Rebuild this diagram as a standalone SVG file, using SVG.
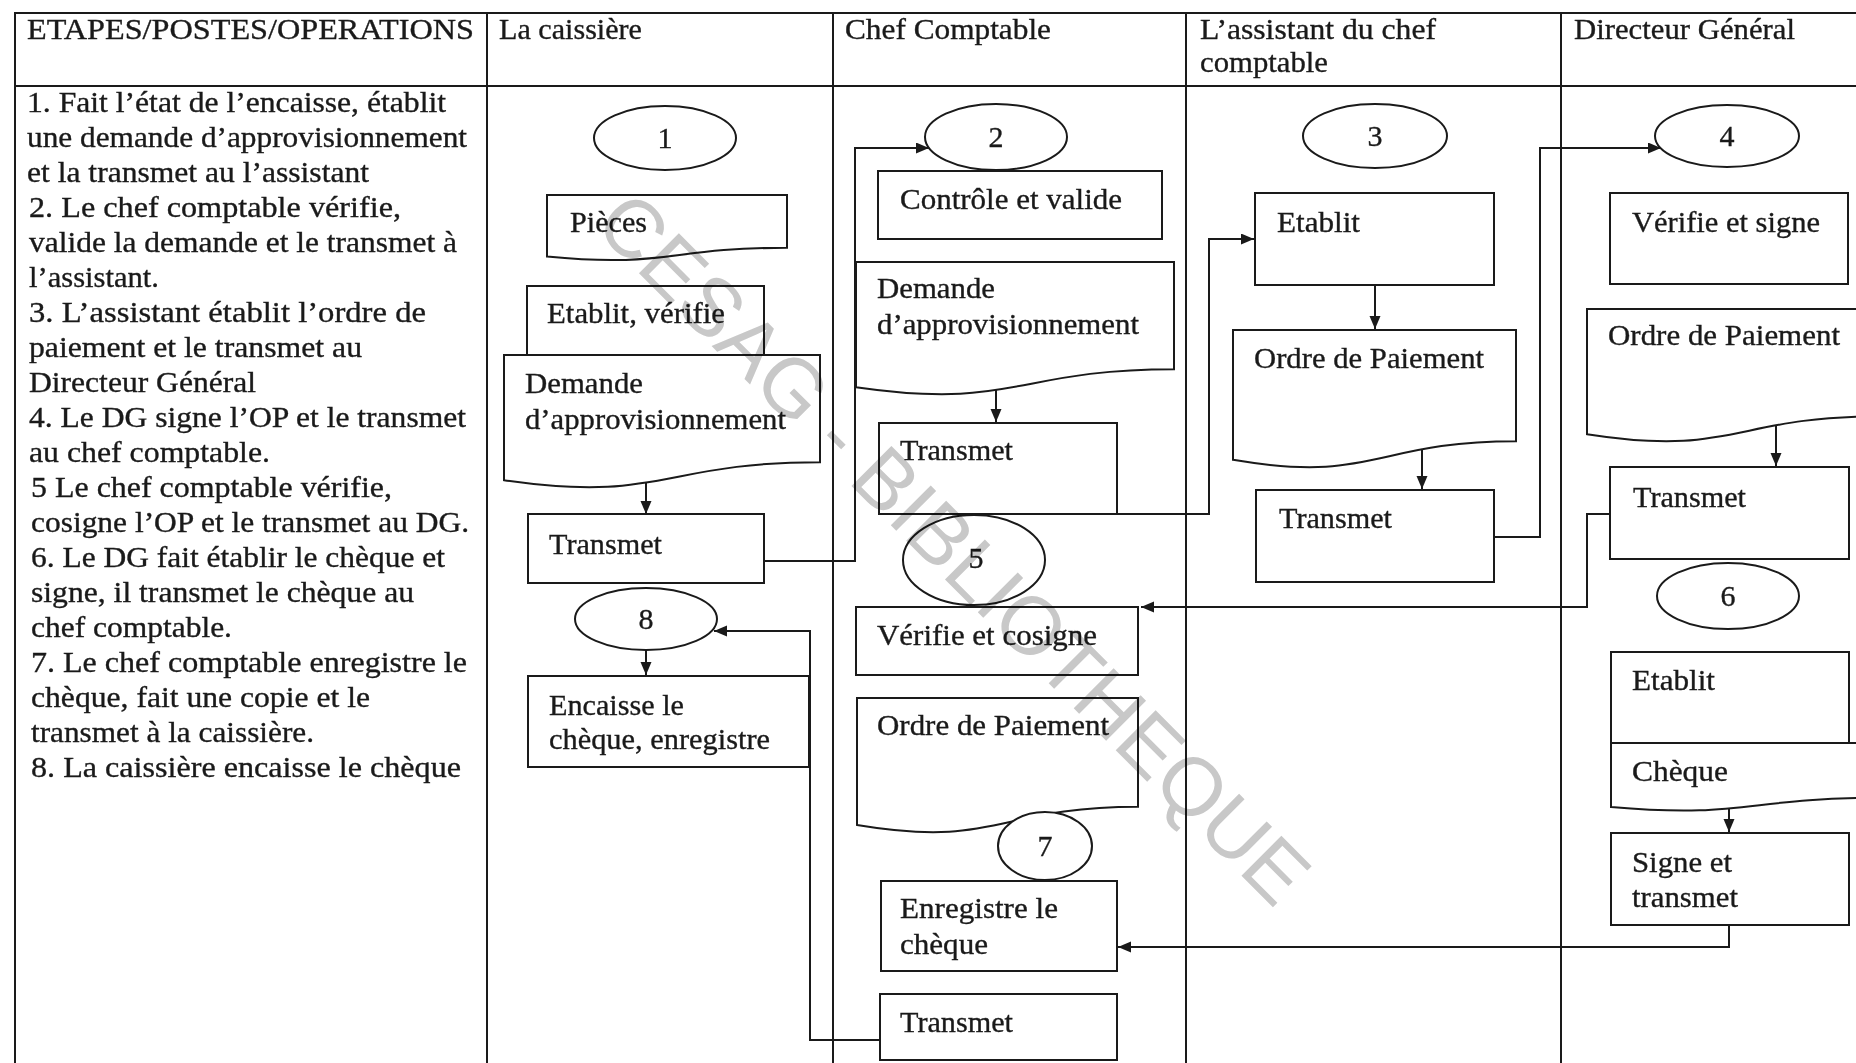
<svg xmlns="http://www.w3.org/2000/svg" width="1856" height="1063" viewBox="0 0 1856 1063">
<defs>
<style>
.t{font-family:"Liberation Serif","Times New Roman",serif;font-size:30px;fill:#1a1a1a;stroke:#1a1a1a;stroke-width:0.35}
.n{font-family:"Liberation Serif","Times New Roman",serif;font-size:30px;fill:#1a1a1a;stroke:#1a1a1a;stroke-width:0.35;text-anchor:middle}
.s{fill:none;stroke:#1a1a1a;stroke-width:2}
.e{fill:#fff;stroke:#1a1a1a;stroke-width:2}
.tb{fill:none;stroke:#1a1a1a;stroke-width:2}
.c{fill:none;stroke:#1a1a1a;stroke-width:2;marker-end:url(#ah)}
.wm{font-family:"Liberation Sans",Arial,sans-serif;font-size:82px;fill:#c8c8c8;text-anchor:middle;mix-blend-mode:multiply}
</style>
<marker id="ah" markerUnits="userSpaceOnUse" markerWidth="14" markerHeight="12" refX="13" refY="5.5" orient="auto">
<path d="M0,0 L13,5.5 L0,11 z" fill="#1a1a1a"/>
</marker>
</defs>
<rect width="1856" height="1063" fill="#fff"/>

<g id="table">
<line class="tb" x1="14" y1="13" x2="1856" y2="13"/>
<line class="tb" x1="14" y1="86" x2="1856" y2="86"/>
<line class="tb" x1="15" y1="13" x2="15" y2="1063"/>
<line class="tb" x1="487" y1="13" x2="487" y2="1063"/>
<line class="tb" x1="833" y1="13" x2="833" y2="1063"/>
<line class="tb" x1="1186" y1="13" x2="1186" y2="1063"/>
<line class="tb" x1="1561" y1="13" x2="1561" y2="1063"/>
<text class="t" x="27" y="39" textLength="447" lengthAdjust="spacingAndGlyphs">ETAPES/POSTES/OPERATIONS</text>
<text class="t" x="499" y="39" textLength="143" lengthAdjust="spacingAndGlyphs">La caissière</text>
<text class="t" x="845" y="39" textLength="206" lengthAdjust="spacingAndGlyphs">Chef Comptable</text>
<text class="t" x="1200" y="39" textLength="236" lengthAdjust="spacingAndGlyphs">L’assistant du chef</text>
<text class="t" x="1200" y="72" textLength="128" lengthAdjust="spacingAndGlyphs">comptable</text>
<text class="t" x="1574" y="39" textLength="221" lengthAdjust="spacingAndGlyphs">Directeur Général</text>
</g>

<g id="steps">
<text class="t" x="27" y="112" textLength="419" lengthAdjust="spacingAndGlyphs">1. Fait l’état de l’encaisse,  établit</text>
<text class="t" x="27" y="147" textLength="440" lengthAdjust="spacingAndGlyphs">une demande d’approvisionnement</text>
<text class="t" x="27" y="182" textLength="342" lengthAdjust="spacingAndGlyphs">et la transmet au l’assistant</text>
<text class="t" x="29" y="217" textLength="372" lengthAdjust="spacingAndGlyphs">2.  Le chef comptable vérifie,</text>
<text class="t" x="29" y="252" textLength="428" lengthAdjust="spacingAndGlyphs">valide la  demande et le transmet à</text>
<text class="t" x="29" y="287" textLength="130" lengthAdjust="spacingAndGlyphs">l’assistant.</text>
<text class="t" x="29" y="322" textLength="397" lengthAdjust="spacingAndGlyphs">3.  L’assistant établit l’ordre de</text>
<text class="t" x="29" y="357" textLength="333" lengthAdjust="spacingAndGlyphs">paiement et le transmet au</text>
<text class="t" x="29" y="392" textLength="227" lengthAdjust="spacingAndGlyphs">Directeur Général</text>
<text class="t" x="29" y="427" textLength="437" lengthAdjust="spacingAndGlyphs">4. Le DG signe l’OP et le transmet</text>
<text class="t" x="29" y="462" textLength="241" lengthAdjust="spacingAndGlyphs">au chef comptable.</text>
<text class="t" x="31" y="497" textLength="361" lengthAdjust="spacingAndGlyphs">5  Le chef comptable vérifie,</text>
<text class="t" x="31" y="532" textLength="438" lengthAdjust="spacingAndGlyphs">cosigne l’OP et le transmet au DG.</text>
<text class="t" x="31" y="567" textLength="414" lengthAdjust="spacingAndGlyphs">6. Le DG fait établir le chèque et</text>
<text class="t" x="31" y="602" textLength="383" lengthAdjust="spacingAndGlyphs">signe, il transmet le chèque au</text>
<text class="t" x="31" y="637" textLength="201" lengthAdjust="spacingAndGlyphs">chef comptable.</text>
<text class="t" x="31" y="672" textLength="436" lengthAdjust="spacingAndGlyphs">7.  Le chef comptable enregistre le</text>
<text class="t" x="31" y="707" textLength="339" lengthAdjust="spacingAndGlyphs">chèque, fait une copie et le</text>
<text class="t" x="31" y="742" textLength="283" lengthAdjust="spacingAndGlyphs">transmet à la caissière.</text>
<text class="t" x="31" y="777" textLength="430" lengthAdjust="spacingAndGlyphs">8.  La caissière  encaisse le chèque</text>
</g>

<g id="connectors">
<path class="c" d="M646,482 V514"/>
<path class="c" d="M764,561 H855 V148 H929"/>
<path class="c" d="M996,390 V422"/>
<path class="c" d="M1117,514 H1209 V239 H1254"/>
<path class="c" d="M1375,285 V329"/>
<path class="c" d="M1422,449 V489"/>
<path class="c" d="M1494,537 H1540 V148 H1661"/>
<path class="c" d="M1776,425 V466"/>
<path class="c" d="M1610,514 H1587 V607 H1141"/>
<path class="c" d="M1729,808 V832"/>
<path class="c" d="M1729,925 V947 H1118"/>
<path class="c" d="M880,1040 H810 V631 H714"/>
<path class="c" d="M646,650 V675"/>
</g>

<g id="n1"><ellipse class="e" cx="665" cy="138" rx="71" ry="32"/><text class="n" x="665" y="148">1</text></g>
<g id="n-pieces"><path class="s" d="M547,195 H787 V247.8 C667,247.8 667,268.1 547,256.6 Z"/><text class="t" x="570" y="232" textLength="77" lengthAdjust="spacingAndGlyphs">Pièces</text></g>
<g id="n-etablit-verifie"><rect class="s" x="527" y="286" width="237" height="69"/><text class="t" x="547" y="323" textLength="178" lengthAdjust="spacingAndGlyphs">Etablit, vérifie</text></g>
<g id="n-demande-1"><path class="s" d="M504,355 H820 V462.2 C662,462.2 662,503.3 504,480.2 Z"/><text class="t" x="525" y="393" textLength="118" lengthAdjust="spacingAndGlyphs">Demande</text><text class="t" x="525" y="429" textLength="261" lengthAdjust="spacingAndGlyphs">d’approvisionnement</text></g>
<g id="n-transmet-1"><rect class="s" x="528" y="514" width="236" height="69"/><text class="t" x="549" y="554" textLength="113" lengthAdjust="spacingAndGlyphs">Transmet</text></g>
<g id="n8"><ellipse class="e" cx="646" cy="619" rx="71" ry="31"/><text class="n" x="646" y="629">8</text></g>
<g id="n-encaisse"><rect class="s" x="528" y="676" width="281" height="91"/><text class="t" x="549" y="715" textLength="135" lengthAdjust="spacingAndGlyphs">Encaisse le</text><text class="t" x="549" y="749" textLength="221" lengthAdjust="spacingAndGlyphs">chèque, enregistre</text></g>

<g id="n2"><ellipse class="e" cx="996" cy="137" rx="71" ry="33"/><text class="n" x="996" y="147">2</text></g>
<g id="n-controle"><rect class="s" x="878" y="171" width="284" height="68"/><text class="t" x="900" y="209" textLength="222" lengthAdjust="spacingAndGlyphs">Contrôle et valide</text></g>
<g id="n-demande-2"><path class="s" d="M856,262 H1174 V369.2 C1015,369.2 1015,410.3 856,387.2 Z"/><text class="t" x="877" y="298" textLength="118" lengthAdjust="spacingAndGlyphs">Demande</text><text class="t" x="877" y="334" textLength="262" lengthAdjust="spacingAndGlyphs">d’approvisionnement</text></g>
<g id="n-transmet-2"><rect class="s" x="879" y="423" width="238" height="91"/><text class="t" x="900" y="460" textLength="113" lengthAdjust="spacingAndGlyphs">Transmet</text></g>
<g id="n5"><ellipse class="e" cx="974" cy="560" rx="71" ry="45"/><text class="n" x="976" y="568">5</text></g>
<g id="n-verifie-cosigne"><rect class="s" x="856" y="607" width="282" height="68"/><text class="t" x="877" y="645" textLength="220" lengthAdjust="spacingAndGlyphs">Vérifie et cosigne</text></g>
<g id="n-ordre-2"><path class="s" d="M857,698 H1138 V806.8 C997.5,806.8 997.5,848.6 857,825 Z"/><text class="t" x="877" y="735" textLength="232" lengthAdjust="spacingAndGlyphs">Ordre de Paiement</text></g>
<g id="n7"><ellipse class="e" cx="1045" cy="846" rx="47" ry="34"/><text class="n" x="1045" y="856">7</text></g>
<g id="n-enregistre"><rect class="s" x="881" y="881" width="236" height="90"/><text class="t" x="900" y="918" textLength="158" lengthAdjust="spacingAndGlyphs">Enregistre le</text><text class="t" x="900" y="954" textLength="88" lengthAdjust="spacingAndGlyphs">chèque</text></g>
<g id="n-transmet-4"><rect class="s" x="880" y="994" width="237" height="66"/><text class="t" x="900" y="1032" textLength="113" lengthAdjust="spacingAndGlyphs">Transmet</text></g>

<g id="n3"><ellipse class="e" cx="1375" cy="136" rx="72" ry="32"/><text class="n" x="1375" y="146">3</text></g>
<g id="n-etablit-3"><rect class="s" x="1255" y="193" width="239" height="92"/><text class="t" x="1277" y="232" textLength="83" lengthAdjust="spacingAndGlyphs">Etablit</text></g>
<g id="n-ordre-3"><path class="s" d="M1233,330 H1516 V441.2 C1374.5,441.2 1374.5,483.9 1233,459.8 Z"/><text class="t" x="1254" y="368" textLength="230" lengthAdjust="spacingAndGlyphs">Ordre de Paiement</text></g>
<g id="n-transmet-3"><rect class="s" x="1256" y="490" width="238" height="92"/><text class="t" x="1279" y="528" textLength="113" lengthAdjust="spacingAndGlyphs">Transmet</text></g>

<g id="n4"><ellipse class="e" cx="1727" cy="136" rx="72" ry="31"/><text class="n" x="1727" y="146">4</text></g>
<g id="n-verifie-signe"><rect class="s" x="1610" y="193" width="238" height="91"/><text class="t" x="1632" y="232" textLength="188" lengthAdjust="spacingAndGlyphs">Vérifie et signe</text></g>
<g id="n-ordre-4"><path class="s" d="M1587,309 H1881 V416.2 C1734,416.2 1734,457.3 1587,434.2 Z"/><text class="t" x="1608" y="345" textLength="232" lengthAdjust="spacingAndGlyphs">Ordre de Paiement</text></g>
<g id="n-transmet-5"><rect class="s" x="1610" y="467" width="239" height="92"/><text class="t" x="1633" y="507" textLength="113" lengthAdjust="spacingAndGlyphs">Transmet</text></g>
<g id="n6"><ellipse class="e" cx="1728" cy="596" rx="71" ry="33"/><text class="n" x="1728" y="606">6</text></g>
<g id="n-etablit-6"><rect class="s" x="1611" y="652" width="238" height="91"/><text class="t" x="1632" y="690" textLength="83" lengthAdjust="spacingAndGlyphs">Etablit</text></g>
<g id="n-cheque"><path class="s" d="M1611,743 H1880 V797.8 C1745.5,797.8 1745.5,818.8 1611,807 Z"/><text class="t" x="1632" y="781" textLength="96" lengthAdjust="spacingAndGlyphs">Chèque</text></g>
<g id="n-signe"><rect class="s" x="1611" y="833" width="238" height="92"/><text class="t" x="1632" y="872" textLength="100" lengthAdjust="spacingAndGlyphs">Signe et</text><text class="t" x="1632" y="907" textLength="106" lengthAdjust="spacingAndGlyphs">transmet</text></g>

<g id="watermark"><text class="wm" transform="translate(955,547) rotate(45)" x="0" y="30">CESAG - BIBLIOTHEQUE</text></g>
</svg>
